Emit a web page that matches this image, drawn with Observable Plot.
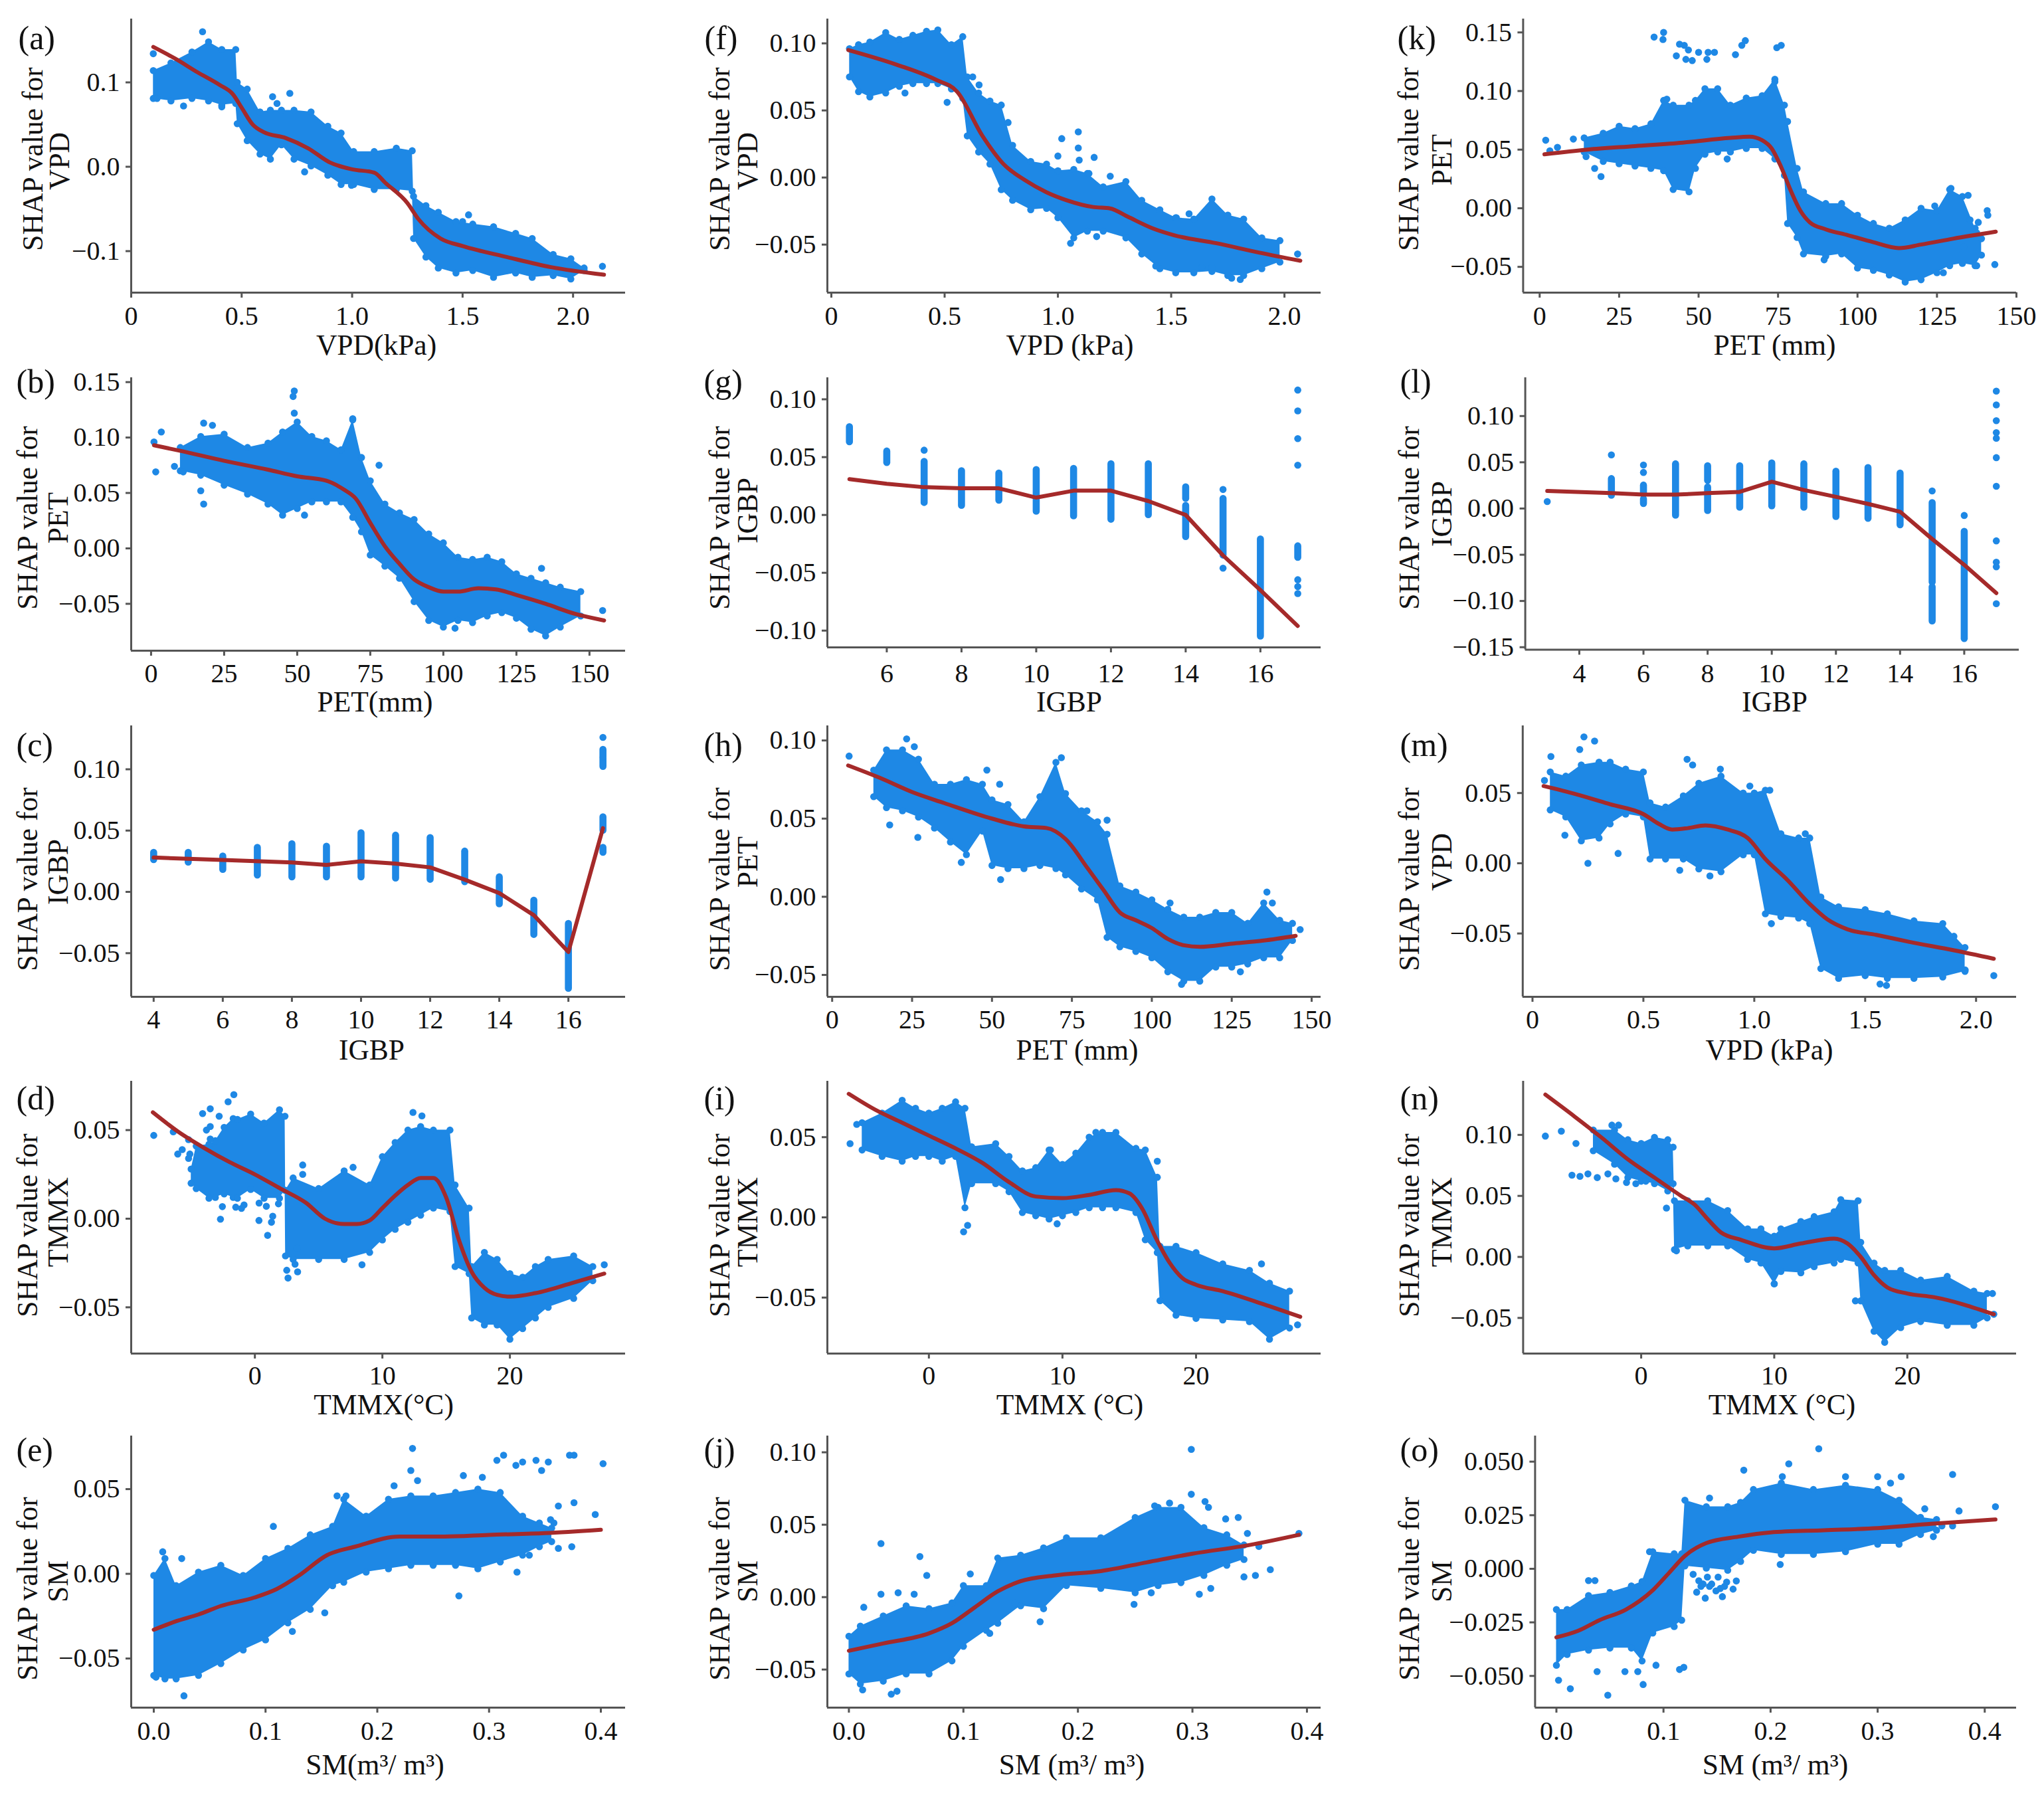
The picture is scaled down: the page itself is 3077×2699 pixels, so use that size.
<!DOCTYPE html>
<html><head><meta charset="utf-8">
<script src="https://cdn.jsdelivr.net/npm/d3@7"></script>
<script src="https://cdn.jsdelivr.net/npm/@observablehq/plot@0.6"></script>
<style>html,body{margin:0;background:#fff}#page{position:relative;width:3077px;height:2699px;background:#fff;overflow:hidden}</style>
</head><body><div id="page"></div>
<script>
// ---------- values: [x, lowest, highest] of the dense cloud, lone points [x, y], smooth curve [x, y]
const aBand=[[.1,.081,.114],[.18,.078,.123],[.275,.081,.136],[.35,.078,.148],[.41,.073,.139],[.473,.075,.139],[.48,.051,.1],[.525,.031,.092],[.583,.015,.065],[.63,.009,.067],[.68,.026,.067],[.737,.009,.067],[.814,.001,.065],[.89,-.01,.048],[.95,-.021,.04],[1.007,-.021,.018],[1.1,-.027,.018],[1.2,-.027,.022],[1.272,-.029,.019],[1.278,-.085,-.035],[1.334,-.107,-.046],[1.39,-.12,-.054],[1.47,-.126,-.065],[1.546,-.123,-.068],[1.64,-.131,-.071],[1.74,-.126,-.079],[1.815,-.131,-.085],[1.91,-.129,-.104],[1.99,-.133,-.109],[2.05,-.123,-.12]];
const aDots=[[.323,.16],[.1,.134],[.64,.083],[.66,.075],[.718,.087],[.785,-.006],[2.133,-.118],[1.527,-.057],[1.5,-.065],[.997,-.022],[.117,.081],[.237,.072],[.41,.071]];
const aLine=[[.1,.142],[.2,.128],[.3,.112],[.4,.097],[.46,.086],[.5,.07],[.55,.05],[.6,.041],[.7,.034],[.8,.022],[.9,.005],[1,-.003],[1.1,-.007],[1.15,-.019],[1.25,-.043],[1.3,-.062],[1.4,-.085],[1.5,-.094],[1.7,-.107],[1.9,-.119],[2.14,-.128]];

const bBand=[[10,.07,.091],[17,.066,.101],[25,.057,.103],[33,.049,.091],[40,.04,.095],[45,.03,.105],[50,.036,.114],[55,.042,.101],[60,.042,.097],[65,.042,.089],[69,.028,.116],[72,.015,.082],[75,-.006,.061],[80,-.016,.04],[85,-.027,.032],[90,-.048,.026],[95,-.065,.013],[100,-.071,.005],[105,-.065,-.008],[110,-.067,-.01],[115,-.061,-.008],[120,-.058,-.012],[125,-.063,-.023],[130,-.073,-.027],[135,-.079,-.031],[140,-.071,-.035],[147,-.061,-.039]];
const bDots=[[1,.096],[1.6,.069],[3.5,.105],[18,.113],[21,.111],[17,.052],[18,.04],[49,.142],[48.6,.137],[49,.122],[69,.117],[78,.075],[154.5,-.056],[133.6,-.018],[104,-.072],[52.5,.03],[8,.074],[11,.069]];
const bLine=[[1,.093],[10,.088],[25,.079],[40,.071],[50,.065],[60,.061],[66,.053],[70,.045],[75,.023],[80,.002],[85,-.014],[90,-.028],[95,-.035],[100,-.039],[105,-.039],[112,-.036],[118,-.037],[125,-.042],[135,-.05],[145,-.059],[155,-.065]];

const cStripes=[[4,.026,.032],[5,.024,.032],[6,.018,.029],[7,.0135,.036],[8,.012,.039],[9,.012,.037],[10,.012,.048],[11,.011,.046],[12,.01,.044],[13,.008,.033],[14,-.01,.012],[15,-.035,-.007],[16,-.079,-.026],[17,.032,.036],[17,.05,.061],[17,.102,.109],[17,.11,.116]];
const cDots=[[17,.126]];
const cLine=[[4,.028],[6,.026],[8,.024],[9,.022],[10,.025],[11,.023],[12,.02],[13,.01],[14,-.001],[15,-.019],[16,-.049],[17,.052]];

const dBand=[[-5,.02,.028],[-4.6,.017,.041],[-3.6,.0115,.042],[-3.1,.012,.044],[-2.41,.014,.0515],[-1.7,.012,.0565],[-1.37,.0115,.056],[-.33,.0165,.059],[.72,.0115,.054],[1.93,.0115,.0615],[2.36,.016,.0578],[2.4,-.021,.016],[3,-.023,.023],[5,-.023,.017],[7,-.023,.027],[9,-.019,.019],[10,-.012,.035],[11,-.006,.043],[12,-.002,.05],[13,.002,.052],[14,.006,.05],[15.3,.004,.05],[15.7,-.027,.019],[16.8,-.031,.006],[17,-.056,-.027],[18,-.06,-.019],[19,-.06,-.023],[20,-.068,-.031],[21,-.062,-.033],[22,-.056,-.027],[23,-.05,-.023],[25,-.045,-.021],[26.5,-.035,-.027]];
const dDots=[[-7.93,.047],[-6.4,.049],[-6.05,.0365],[-5.7,.039],[-5.2,.0446],[-5.1,.0365],[-5.2,.034],[-4.1,.0593],[-3.5,.062],[-2.8,.0578],[-2.1,.066],[-1.65,.07],[-3.5,.052],[-3.8,.05],[-3.5,.045],[-2.7,-.0003],[-2.55,.0068],[-1.5,.0065],[-1.05,.0058],[-.85,.0078],[.33,.0088],[.9,.007],[.32,-.001],[1.4,.0014],[1.3,-.002],[1,-.0094],[1.85,.0084],[3.75,.0303],[3.75,.025],[2.5,-.0291],[3.15,-.0257],[3.35,-.03],[2.6,-.0335],[3.3,-.0166],[27.4,-.026],[8.4,-.026],[12.4,.06],[13.1,.058],[7.7,.029]];
const dLine=[[-8,.06],[-6,.049],[-4,.04],[-2,.032],[0,.025],[2,.017],[4,.009],[5.5,0],[7,-.003],[8,-.003],[9,-.001],[10,.006],[11,.013],[12,.019],[13,.023],[14,.023],[15,.012],[16,-.012],[17,-.03],[18,-.039],[19,-.043],[20,-.044],[22,-.042],[25,-.036],[27.4,-.031]];

const eBand=[[0,-.06,-.001],[.01,-.062,.009],[.02,-.062,-.007],[.04,-.06,.001],[.06,-.053,.005],[.08,-.045,-.001],[.1,-.039,.009],[.12,-.029,.015],[.14,-.021,.023],[.16,-.007,.028],[.17,-.005,.044],[.19,.001,.034],[.21,.003,.044],[.23,.005,.046],[.25,.005,.046],[.27,.005,.048],[.29,.003,.05],[.31,.007,.048],[.33,.011,.034],[.345,.016,.03],[.356,.019,.027]];
const eDots=[[.2315,.074],[.23,.061],[.236,.055],[.277,.058],[.294,.057],[.307,.067],[.313,.07],[.324,.064],[.33,.066],[.342,.067],[.353,.066],[.347,.061],[.372,.07],[.376,.07],[.402,.065],[.395,.035],[.376,.042],[.362,.04],[.355,.032],[.347,.023],[.374,.016],[.362,.015],[.358,.03],[.273,-.013],[.325,.001],[.336,.011],[.107,.028],[.164,.046],[.172,.046],[.215,.052],[.153,-.023],[.124,-.034],[.027,-.072],[.002,-.061],[.025,.009],[.008,.013]];
const eLine=[[0,-.033],[.02,-.028],[.04,-.024],[.06,-.019],[.09,-.014],[.11,-.009],[.13,-.001],[.155,.011],[.18,.016],[.22,.022],[.26,.022],[.3,.023],[.35,.024],[.4,.026]];

const fBand=[[.08,.075,.096],[.12,.064,.099],[.17,.06,.101],[.24,.063,.108],[.3,.068,.103],[.36,.07,.106],[.42,.07,.109],[.47,.07,.11],[.53,.066,.099],[.58,.059,.105],[.6,.031,.075],[.65,.019,.063],[.7,.01,.057],[.75,-.009,.054],[.8,-.017,.024],[.88,-.024,.012],[.95,-.023,.01],[1,-.03,.005],[1.07,-.045,.006],[1.13,-.04,.003],[1.2,-.04,-.007],[1.3,-.045,-.003],[1.37,-.057,-.017],[1.45,-.068,-.024],[1.52,-.071,-.03],[1.6,-.071,-.031],[1.68,-.07,-.016],[1.75,-.073,-.028],[1.82,-.073,-.031],[1.9,-.068,-.045],[1.98,-.063,-.047]];
const fDots=[[.325,.063],[.511,.056],[.624,.075],[.652,.069],[1.017,.029],[1.09,.034],[1.09,.022],[1,.016],[1.094,.013],[1.16,.015],[1.231,.001],[1.137,.003],[1.056,-.049],[1.171,-.044],[2.058,-.057],[1.805,-.076],[1.767,-.075],[1.635,-.067],[1.68,-.067],[1.523,-.03],[1.579,-.027],[1.432,-.066],[.78,.041]];
const fLine=[[.075,.095],[.29,.084],[.46,.073],[.555,.064],[.667,.031],[.76,.01],[.855,-.002],[.95,-.011],[1.04,-.017],[1.156,-.022],[1.23,-.023],[1.306,-.029],[1.42,-.038],[1.513,-.043],[1.7,-.049],[1.89,-.056],[2.07,-.062]];

const gStripes=[[5,.063,.076],[6,.045,.055],[7,.0105,.046],[8,.008,.038],[9,.0125,.036],[10,.003,.039],[11,-.001,.04],[12,-.004,.044],[13,0,.044],[14,.014,.024],[14,-.019,.008],[15,-.035,.014],[16,-.105,-.021],[17,-.037,-.027]];
const gDots=[[7,.056],[15,.022],[15,-.046],[17,.108],[17,.09],[17,.066],[17,.043],[17,-.056],[17,-.062],[17,-.068]];
const gLine=[[5,.031],[6,.027],[7,.024],[8,.023],[9,.023],[10,.015],[11,.021],[12,.021],[13,.012],[14,0],[15,-.035],[16,-.065],[17,-.096]];

const hBand=[[13,.064,.081],[17,.057,.094],[22,.055,.094],[27,.051,.088],[32,.044,.072],[37,.035,.072],[42,.027,.075],[47,.042,.072],[50,.02,.062],[55,.018,.059],[60,.018,.048],[65,.02,.064],[70,.018,.086],[73,.014,.066],[78,.005,.055],[83,-.002,.048],[86,-.026,.04],[90,-.032,.007],[95,-.035,.003],[100,-.039,-.002],[105,-.048,-.008],[110,-.054,-.013],[115,-.054,-.013],[120,-.045,-.01],[125,-.045,-.01],[130,-.043,-.017],[135,-.039,-.004],[140,-.039,-.015],[144,-.028,-.017]];
const hDots=[[5.3,.09],[23.3,.101],[25.7,.096],[18,.046],[26.8,.038],[48.4,.081],[52.4,.072],[40.4,.022],[52.7,.011],[71.7,.089],[86,.049],[79.7,.055],[136,.003],[137.7,-.004],[105.7,-.004],[146.4,-.021],[109.3,-.056],[127.7,-.048]];
const hLine=[[5,.084],[15,.076],[25,.067],[35,.06],[50,.05],[60,.045],[67,.044],[73,.037],[80,.018],[85,.004],[90,-.01],[95,-.015],[100,-.02],[105,-.027],[110,-.031],[115,-.032],[125,-.03],[135,-.028],[145,-.025]];

const iBand=[[-5,.042,.059],[-3.5,.038,.065],[-2,.035,.073],[-1,.038,.068],[0,.038,.065],[1,.035,.068],[2,.038,.072],[2.7,.006,.068],[3.2,.021,.044],[5,.021,.046],[6,.016,.038],[7,.003,.029],[8,.001,.031],[9,-.001,.042],[10,.001,.033],[11,.003,.04],[12,.006,.05],[13,.006,.053],[14,.006,.053],[15.5,.003,.043],[16.2,-.014,.042],[17.1,-.022,.025],[17.3,-.052,-.018],[18.5,-.061,-.018],[20,-.063,-.022],[22,-.064,-.029],[24,-.065,-.033],[25.5,-.076,-.041],[27,-.069,-.046]];
const iDots=[[-5.9,.046],[-5.4,.058],[27.6,-.067],[2.6,-.009],[2.9,-.005],[9.1,.042],[12.5,.053],[17.1,.035],[24.9,-.029],[9.6,-.004]];
const iLine=[[-6,.077],[-4,.067],[-2,.059],[0,.051],[2,.043],[4,.034],[6,.022],[8,.013],[10,.012],[12,.014],[14,.017],[15,.015],[16,.005],[17,-.013],[18,-.028],[19,-.038],[20,-.042],[22,-.046],[25,-.054],[27.8,-.062]];

const jBand=[[0,-.053,-.027],[.01,-.06,-.02],[.03,-.058,-.013],[.05,-.053,-.006],[.07,-.053,-.008],[.09,-.044,-.004],[.1,-.034,.008],[.12,-.023,.008],[.13,-.018,.027],[.15,-.006,.029],[.17,-.008,.034],[.19,.008,.041],[.22,.006,.041],[.25,.003,.055],[.27,.008,.062],[.29,.01,.062],[.31,.015,.048],[.33,.022,.043],[.345,.026,.036]];
const jDots=[[.299,.102],[.299,.071],[.267,.063],[.28,.065],[.311,.066],[.314,.062],[.329,.054],[.34,.055],[.348,.044],[.358,.035],[.368,.019],[.355,.015],[.345,.014],[.393,.044],[.028,.037],[.062,.028],[.068,.015],[.028,.002],[.043,.003],[.057,.002],[.013,-.007],[.249,-.005],[.264,.003],[.306,.002],[.316,.006],[.167,-.017],[.145,-.004],[.123,-.025],[.037,-.067],[.042,-.065],[.012,-.064],[.106,.016]];
const jLine=[[0,-.037],[.03,-.032],[.07,-.025],[.09,-.018],[.11,-.007],[.13,.004],[.15,.011],[.18,.015],[.22,.018],[.26,.024],[.3,.03],[.35,.036],[.393,.043]];

const kBand=[[14,.048,.06],[20,.04,.064],[25,.038,.07],[30,.036,.068],[35,.034,.072],[39,.032,.092],[42,.016,.088],[47,.014,.088],[49,.034,.092],[52,.046,.102],[56,.048,.102],[60,.048,.088],[65,.051,.094],[70,.051,.096],[74,.042,.11],[77,.028,.088],[78,-.013,.074],[81,-.025,.034],[83,-.039,.014],[90,-.041,.004],[95,-.039,.004],[100,-.051,-.006],[105,-.053,-.013],[110,-.057,-.017],[115,-.063,-.01],[120,-.061,0],[125,-.055,-.002],[129,-.049,.016],[133,-.047,.01],[137,-.049,-.017],[139,-.04,-.026]];
const kDots=[[1.9,.058],[5.6,.052],[3.2,.049],[10.6,.059],[14.6,.044],[17.3,.034],[19.3,.027],[36,.146],[39,.15],[38.8,.144],[44,.14],[45.5,.139],[43,.13],[46,.127],[48,.126],[46.8,.135],[50,.133],[53,.133],[55,.133],[52.6,.127],[61.6,.131],[63.6,.139],[64.7,.143],[74.6,.137],[76,.139],[74,.108],[59,.042],[89.5,-.044],[143.2,-.048],[140.8,-.002],[141,-.006],[138,-.012],[135.4,-.01],[129.4,.017],[134.8,.011],[124.3,.002],[137.5,-.049],[127,-.055],[135.4,-.023],[133.4,-.033],[137.5,-.021],[40,.093]];
const kLine=[[1.5,.046],[15,.05],[30,.053],[45,.056],[60,.06],[66,.061],[70,.058],[73,.051],[76,.035],[79,.015],[82,-.002],[85,-.012],[90,-.018],[97,-.023],[105,-.029],[113,-.034],[120,-.031],[130,-.026],[143.5,-.02]];

const lStripes=[[5,.014,.032],[6,.015,.025],[6,.005,.01],[7,-.0075,.048],[8,.03,.046],[8,-.0025,.023],[9,.001,.046],[10,.0025,.049],[11,.001,.048],[12,-.009,.04],[13,-.011,.044],[14,-.018,.038],[15,-.08,.006],[15,-.122,-.085],[16,-.141,-.025]];
const lDots=[[3,.0075],[5,.058],[6,.047],[6,.039],[15,.019],[16,-.0075],[17,.127],[17,.112],[17,.095],[17,.082],[17,.076],[17,.055],[17,.024],[17,-.035],[17,-.058],[17,-.063],[17,-.103]];
const lLine=[[3,.019],[5,.0166],[6,.015],[7,.015],[8,.0166],[9,.018],[10,.029],[11,.02],[12,.0126],[13,.005],[14,-.0035],[15,-.033],[16,-.061],[17,-.0915]];

const mBand=[[.08,.038,.065],[.15,.033,.062],[.22,.016,.07],[.3,.018,.072],[.35,.028,.072],[.42,.035,.067],[.5,.033,.065],[.53,.003,.043],[.6,.003,.04],[.68,.003,.048],[.75,-.004,.057],[.85,-.006,.062],[.95,.006,.05],[1,.006,.05],[1.05,-.036,.052],[1.12,-.038,.021],[1.2,-.039,.018],[1.25,-.043,.018],[1.3,-.075,-.024],[1.38,-.082,-.031],[1.5,-.08,-.033],[1.6,-.082,-.036],[1.72,-.082,-.041],[1.85,-.081,-.043],[1.95,-.077,-.06]];
const mDots=[[.232,.09],[.28,.087],[.213,.081],[.083,.076],[.697,.074],[.722,.07],[.847,.067],[.146,.02],[.25,0],[.386,.007],[.664,-.005],[.8,-.009],[.98,.055],[1.07,.052],[1.23,.021],[1.077,-.043],[1.567,-.086],[1.596,-.087],[2.08,-.08],[1.951,-.076],[.054,.059],[1.9,-.052]];
const mLine=[[.05,.055],[.2,.049],[.35,.042],[.5,.035],[.57,.028],[.63,.024],[.7,.025],[.78,.027],[.88,.024],[.97,.018],[1.05,.003],[1.15,-.012],[1.25,-.029],[1.33,-.04],[1.42,-.047],[1.55,-.051],[1.7,-.056],[1.9,-.062],[2.08,-.068]];

const nBand=[[-3.6,.087,.104],[-2,.076,.104],[-1,.065,.096],[0,.062,.093],[1,.06,.098],[2,.054,.096],[2.4,.06,.09],[2.5,.006,.046],[3.5,.009,.046],[5,.009,.046],[6.5,.009,.038],[8,-.002,.023],[9,-.005,.023],[10,-.022,.017],[10.5,-.012,.023],[12,-.013,.029],[13,-.008,.033],[14.5,-.005,.037],[15,-.002,.047],[16.3,-.005,.046],[16.5,-.036,.012],[17.5,-.061,-.005],[18.3,-.07,-.011],[19.5,-.058,-.011],[21,-.053,-.019],[23,-.056,-.016],[25,-.056,-.028],[26,-.05,-.03]];
const nDots=[[-7.2,.099],[-6,.103],[-4.9,.093],[-2.2,.108],[-1.7,.108],[-5.2,.067],[-4.6,.066],[-4,.068],[-3.3,.065],[-2.5,.068],[-1.9,.064],[-1.1,.061],[-.4,.06],[.35,.062],[1.9,.04],[2.65,.005],[10,-.022],[26.5,-.047],[26.4,-.03],[16.1,-.036]];
const nLine=[[-7.2,.133],[-5,.115],[-3,.098],[-1,.08],[1,.065],[3,.05],[4,.043],[5,.031],[6,.02],[7.5,.014],[10,.007],[12,.011],[14.5,.015],[15.5,.011],[16.5,0],[17.5,-.015],[18.5,-.025],[20,-.03],[22,-.033],[26.5,-.047]];

const oBand=[[0,-.045,-.019],[.01,-.04,-.019],[.03,-.038,-.0125],[.05,-.037,-.011],[.07,-.037,-.008],[.08,-.043,-.006],[.09,-.03,.008],[.11,-.027,.007],[.117,-.024,.007],[.12,.0013,.032],[.14,.0003,.029],[.16,-.0007,.029],[.172,.0034,.031],[.184,.0086,.037],[.21,.0067,.04],[.24,.0067,.037],[.27,.008,.039],[.3,.0115,.037],[.32,.0115,.032],[.34,.016,.024],[.355,.018,.023]];
const oDots=[[.245,.056],[.217,.049],[.211,.043],[.175,.046],[.143,.033],[.27,.043],[.3,.043],[.312,.04],[.322,.043],[.37,.044],[.344,.028],[.376,.027],[.41,.029],[.37,.02],[.36,.02],[.352,.015],[.209,.002],[.002,-.052],[.013,-.056],[.048,-.059],[.038,-.048],[.064,-.048],[.076,-.048],[.081,-.054],[.093,-.045],[.115,-.047],[.119,-.046],[.03,-.0055],[.036,-.0055],[.087,.008],[.1277,-.0026],[.131,-.0109],[.139,-.0137],[.137,-.0071],[.145,-.0071],[.153,-.0092],[.155,-.013],[.165,-.0095],[.168,-.0057],[.159,-.0062],[.133,-.0056],[.141,-.0039],[.151,-.0039],[.157,-.0082],[.149,-.0103],[.135,-.0082],[.143,-.0082]];
const oLine=[[0,-.032],[.02,-.029],[.04,-.024],[.065,-.019],[.09,-.01],[.105,-.002],[.12,.006],[.14,.012],[.17,.015],[.2,.017],[.25,.018],[.3,.019],[.35,.021],[.41,.023]];

// ---------- tick values
const vpdTicks=[0,.5,1,1.5,2], petTicks=[0,25,50,75,100,125,150], smTicks=[0,.1,.2,.3,.4], tempTicks=[0,10,20];
const igbpTicks=[6,8,10,12,14,16];

// ---------- panels
const panels=[
 {tag:"(a)",name:"VPD",xTitle:"VPD(kPa)",band:aBand,dots:aDots,line:aLine,xt:vpdTicks,xf:"zero",yt:[-.1,0,.1],yf:".1f",xd:[0,2.237],yd:[-.1492,.1752]},
 {tag:"(b)",name:"PET",xTitle:"PET(mm)",band:bBand,dots:bDots,line:bLine,xt:petTicks,xf:"d",yt:[-.05,0,.05,.1,.15],yf:".2f",xd:[-6.8,162.3],yd:[-.0923,.154]},
 {tag:"(c)",name:"IGBP",xTitle:"IGBP",stripes:cStripes,dots:cDots,line:cLine,xt:[4,...igbpTicks],xf:"d",yt:[-.05,0,.05,.1],yf:".2f",xd:[3.35,17.65],yd:[-.0856,.1355]},
 {tag:"(d)",name:"TMMX",xTitle:"TMMX(°C)",band:dBand,dots:dDots,line:dLine,xt:tempTicks,xf:"d",yt:[-.05,0,.05],yf:".2f",xd:[-9.7,29.06],yd:[-.0761,.0776]},
 {tag:"(e)",name:"SM",xTitle:"SM(m³/ m³)",band:eBand,dots:eDots,line:eLine,xt:smTicks,xf:".1f",yt:[-.05,0,.05],yf:".2f",xd:[-.0202,.422],yd:[-.079,.0814]},
 {tag:"(f)",name:"VPD",xTitle:"VPD (kPa)",band:fBand,dots:fDots,line:fLine,xt:vpdTicks,xf:"zero",yt:[-.05,0,.05,.1],yf:".2f",xd:[-.0176,2.161],yd:[-.0858,.1182]},
 {tag:"(g)",name:"IGBP",xTitle:"IGBP",stripes:gStripes,dots:gDots,line:gLine,xt:igbpTicks,xf:"d",yt:[-.1,-.05,0,.05,.1],yf:".2f",xd:[4.41,17.62],yd:[-.1145,.1187]},
 {tag:"(h)",name:"PET",xTitle:"PET (mm)",band:hBand,dots:hDots,line:hLine,xt:petTicks,xf:"d",yt:[-.05,0,.05,.1],yf:".2f",xd:[-1.5,152.9],yd:[-.064,.1094]},
 {tag:"(i)",name:"TMMX",xTitle:"TMMX (°C)",band:iBand,dots:iDots,line:iLine,xt:tempTicks,xf:"d",yt:[-.05,0,.05],yf:".2f",xd:[-7.6,29.35],yd:[-.0849,.0849]},
 {tag:"(j)",name:"SM",xTitle:"SM (m³/ m³)",band:jBand,dots:jDots,line:jLine,xt:smTicks,xf:".1f",yt:[-.05,0,.05,.1],yf:".2f",xd:[-.0188,.4122],yd:[-.0763,.1113]},
 {tag:"(k)",name:"PET",xTitle:"PET (mm)",band:kBand,dots:kDots,line:kLine,xt:petTicks,xf:"d",yt:[-.05,0,.05,.1,.15],yf:".2f",xd:[-5.2,150],yd:[-.072,.1615]},
 {tag:"(l)",name:"IGBP",xTitle:"IGBP",stripes:lStripes,dots:lDots,line:lLine,xt:[4,...igbpTicks],xf:"d",yt:[-.15,-.1,-.05,0,.05,.1],yf:".2f",xd:[2.315,17.71],yd:[-.1527,.1415]},
 {tag:"(m)",name:"VPD",xTitle:"VPD (kPa)",band:mBand,dots:mDots,line:mLine,xt:vpdTicks,xf:"zero",yt:[-.05,0,.05],yf:".2f",xd:[-.044,2.182],yd:[-.0951,.0979]},
 {tag:"(n)",name:"TMMX",xTitle:"TMMX (°C)",band:nBand,dots:nDots,line:nLine,xt:tempTicks,xf:"d",yt:[-.05,0,.05,.1],yf:".2f",xd:[-8.87,28.2],yd:[-.0792,.144]},
 {tag:"(o)",name:"SM",xTitle:"SM (m³/ m³)",band:oBand,dots:oDots,line:oLine,xt:smTicks,xf:".1f",yt:[-.05,-.025,0,.025,.05],yf:".3f",xd:[-.0199,.4296],yd:[-.0648,.062]}
];

// ---------- layout (page pixels), separate from the values
const cellX=[[0,1030],[1030,2070],[2070,3077]], cellY=[[0,546],[546,1082],[1082,1606],[1606,2141],[2141,2699]];
const boxes=[
 [197,28,941,440],[197,568,941,979],[197,1092,941,1500],[197,1627,941,2037],[197,2161,941,2570],
 [1245,28,1988,440],[1245,568,1988,974],[1245,1092,1988,1500],[1245,1627,1988,2037],[1245,2161,1988,2570],
 [2292.4,28,3035,440],[2295.6,568,3039,977.5],[2291.8,1092,3035,1500],[2292.4,1627,3035,2037],[2310.4,2161,3035,2570]];
const tickBase=[488,1026,1547,2083,2618], titleBase=[533,1070,1594,2128,2670], tagBase=[73,590,1137,1669,2198];
const titleX=[566,564,559,577,564,1610,1609,1621,1610,1613,2671,2671,2663,2682,2672];
const tagX=[27,24,24,24,24,1060,1059,1059,1059,1059,2103,2107,2107,2107,2107];
const yl1X=[50,42,42,42,42,1084,1084,1084,1084,1084,2121,2122,2122,2122,2122];
const yl2X=[90,88,88,88,88,1126,1126,1126,1126,1126,2171,2171,2171,2171,2171];
const yl1Y=[239,779,1323,1844,2391];
const yl2Y=[242,779,1312,1839,2380,242,768,1297,1839,2380,240,773,1297,1839,2380];

const BLUE="#1E88E5", RED="#A52A2A", INK="#555555", FONT="'Liberation Serif','Times New Roman',serif", R_DOT=5.3, TICK_FONT=40;
const X=d=>d[0], Y=d=>d[1];
const page=document.getElementById("page");

panels.forEach((p,i)=>{
  const col=Math.floor(i/5), row=i%5, [L,T,R,B]=boxes[i], [ox,ex]=cellX[col], [oy,ey]=cellY[row];
  const note=(s,px,py,o={})=>Plot.text([s],{frameAnchor:"top-left",dx:px-L,dy:py-T,fill:"#111",fontSize:43.5,textAnchor:"middle",lineAnchor:"middle",...o});
  const xfmt=p.xf==="zero"?(d=>d===0?"0":d3.format(".1f")(d)):d3.format(p.xf);
  const marks=[];
  if(p.band){
    marks.push(Plot.areaY(p.band,{x:X,y1:d=>d[1],y2:d=>d[2],fill:BLUE}));
    marks.push(Plot.dot(p.band,{x:X,y:d=>d[1],r:R_DOT,fill:BLUE}));
    marks.push(Plot.dot(p.band,{x:X,y:d=>d[2],r:R_DOT,fill:BLUE}));
  }
  if(p.stripes) marks.push(Plot.ruleX(p.stripes,{x:X,y1:d=>d[1],y2:d=>d[2],stroke:BLUE,strokeWidth:R_DOT*2,strokeLinecap:"round"}));
  marks.push(Plot.dot(p.dots,{x:X,y:Y,r:R_DOT,fill:BLUE}));
  marks.push(Plot.line(p.line,{x:X,y:Y,stroke:RED,strokeWidth:6,curve:p.stripes?"linear":"monotone-x"}));
  marks.push(Plot.ruleX([p.xd[0]],{stroke:INK,strokeWidth:3}));
  marks.push(Plot.ruleY([p.yd[0]],{stroke:INK,strokeWidth:3}));
  marks.push(Plot.axisX({ticks:p.xt,tickFormat:xfmt,tickSize:8,tickPadding:tickBase[row]-B-8-0.71*TICK_FONT,fontSize:TICK_FONT,label:null,stroke:INK,strokeWidth:3,fill:"#111"}));
  marks.push(Plot.axisY({ticks:p.yt,tickFormat:d3.format(p.yf),tickSize:8,tickPadding:9,fontSize:TICK_FONT,label:null,stroke:INK,strokeWidth:3,fill:"#111"}));
  marks.push(note(p.xTitle,titleX[i],titleBase[row],{lineAnchor:"bottom"}));
  marks.push(note(p.tag,tagX[i],tagBase[row],{lineAnchor:"bottom",textAnchor:"start",fontSize:50}));
  marks.push(note("SHAP value for",yl1X[i],yl1Y[row],{rotate:-90}));
  marks.push(note(p.name,yl2X[i],yl2Y[i],{rotate:-90}));
  page.appendChild(Plot.plot({
    width:ex-ox,height:ey-oy,
    marginLeft:L-ox,marginRight:ex-R,marginTop:T-oy,marginBottom:ey-B,
    x:{domain:p.xd,label:null},y:{domain:p.yd,label:null},
    style:{position:"absolute",left:ox+"px",top:oy+"px",background:"transparent",fontFamily:FONT,maxWidth:"none"},
    marks
  }));
});
</script></body></html>
